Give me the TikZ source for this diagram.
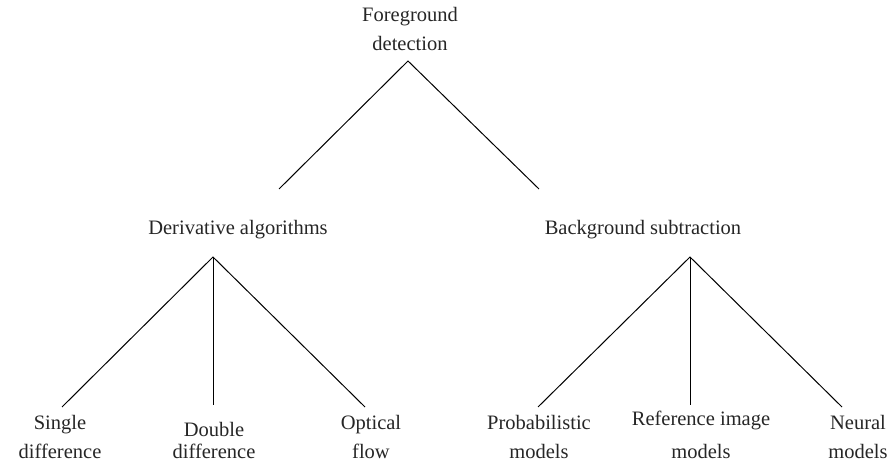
\documentclass[tikz,border=0pt]{standalone}
\usepackage{fontspec}
\setmainfont{Liberation Serif}
\begin{document}
\begin{tikzpicture}[x=1pt,y=-1pt,
  lbl/.style={font=\fontsize{20.5}{29}\selectfont, align=center, inner sep=0pt, text=black!85},
  lblt/.style={lbl, font=\fontsize{20.5}{22}\selectfont},
  lblw/.style={lbl, font=\fontsize{20.5}{33}\selectfont},
  edge/.style={line width=1pt}]
\useasboundingbox (0,0) rectangle (895,465);
% labels
\node[lbl] (root) at (410,29) {Foreground\\detection};
\node[lbl] (der) at (238,230) {Derivative algorithms};
\node[lbl] (bg) at (643,230) {Background subtraction};
\node[lbl] (sd) at (60,437) {Single\\difference};
\node[lblt] (dd) at (214,440) {Double\\difference};
\node[lbl] (of) at (371,437) {Optical\\flow};
\node[lbl] (pm) at (539,437) {Probabilistic\\models};
\node[lblw] (rim) at (701,435) {Reference image\\models};
\node[lbl] (nm) at (858,437) {Neural\\models};
% connector points
\coordinate (rA) at (408,61);
\coordinate (rL) at (279,189);
\coordinate (rR) at (539,189);
\coordinate (dA) at (213,257);
\coordinate (dL) at (62,407);
\coordinate (dM) at (213,405);
\coordinate (dR) at (365,407);
\coordinate (bA) at (690,257);
\coordinate (bL) at (538,407);
\coordinate (bM) at (690,405);
\coordinate (bR) at (842,407);
\draw[edge] (rL) -- (rA) -- (rR);
\draw[edge] (dL) -- (dA) -- (dR);
\draw[edge] (dA) -- (dM);
\draw[edge] (bL) -- (bA) -- (bR);
\draw[edge] (bA) -- (bM);
\end{tikzpicture}
\end{document}
